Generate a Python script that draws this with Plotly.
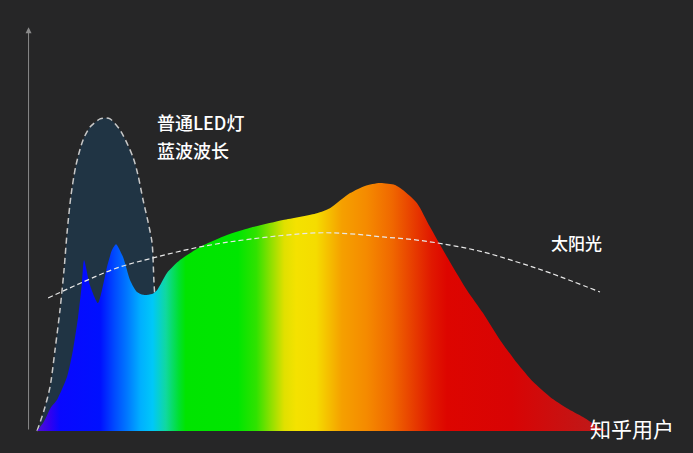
import plotly.graph_objects as go

# ---- data (wavelength in nm, relative intensity) ----
spec_nm = [380, 385, 390, 394.5, 401.7, 406.0, 409.7, 412.5, 414.0, 418.3, 424.1,
           430.6, 434.2, 437.1, 442.2, 447.3, 452.3, 456.7, 463.2, 466.8, 474.0,
           483.4, 497.9, 517.4, 534.1, 557.9, 582.5, 591.9, 606.4, 617.2, 628.1,
           638.9, 644.7, 654.9, 664.3, 678.7, 691.0, 702.6, 714.9, 727.2, 738.8,
           751.1, 763.3, 774.9, 787.2, 792]
spec_val = [0, 3, 7.5, 10, 17.3, 25.9, 36.4, 47.3, 54.6, 46.6, 40.9,
            52.4, 57.8, 59.7, 55.6, 48.2, 44.4, 43.5, 43.8, 45.0, 50.5,
            54.6, 58.8, 62.6, 64.9, 67.4, 69.6, 71.2, 76.0, 78.3, 79.2,
            78.6, 77.0, 72.8, 65.2, 54.0, 45.0, 37.7, 29.1, 21.7, 15.7,
            10.9, 7.3, 4.5, 1.0, 0]

led_nm = [380, 385.1, 389.4, 393.0, 396.6, 399.5, 401.7, 404.6, 408.2, 413.3,
          418.3, 425.6, 429.2, 432.8, 440.0, 449.4, 453.0, 456.7, 460.3, 463.2,
          464.6, 466.8, 469.0, 472.6]
led_val = [0, 6.7, 14.1, 25.9, 38.7, 51.4, 63.3, 75.4, 85.0, 93.0,
           97.1, 99.7, 100, 99.7, 96.2, 87.5, 81.8, 73.8, 66.8, 60.1,
           47.3, 32.3, 16.3, 0]

sun_nm = [388.0, 413.3, 437.9, 463.9, 497.9, 534.1, 582.5, 606.4, 630.3, 654.9,
          678.7, 702.6, 727.2, 751.1, 787.2]
sun_val = [42.5, 47.6, 52.1, 55.3, 58.8, 61.3, 63.3, 63.0, 62.0, 61.0,
           59.4, 57.2, 54.0, 50.5, 44.4]

label_led = ["普通LED灯", "蓝波波长"]
label_sun = "太阳光"
watermark = "知乎用户"

BG = "#262627"
FONT = "Noto Sans CJK SC"

rainbow = [
    [0.000, "#5010d0"], [0.023, "#3000f0"], [0.040, "#0808ff"], [0.111, "#0010ff"],
    [0.135, "#0048ff"], [0.158, "#0078ff"], [0.182, "#00b0ff"], [0.203, "#00c8f8"],
    [0.226, "#10d8a0"], [0.249, "#00e030"], [0.261, "#00e400"], [0.353, "#00e600"],
    [0.385, "#30e200"], [0.411, "#90e000"], [0.434, "#e0e000"], [0.455, "#f4e200"],
    [0.490, "#f5dc00"], [0.508, "#f5c400"], [0.535, "#f5a000"], [0.579, "#f58a00"],
    [0.623, "#f06800"], [0.658, "#e84000"], [0.693, "#e01800"], [0.720, "#dd0500"],
    [0.834, "#d80404"], [0.976, "#c01818"], [1.000, "#b81a1a"],
]

fig = go.Figure()

# LED blue bump (behind spectrum)
fig.add_trace(go.Scatter(
    x=led_nm, y=led_val, mode="lines",
    line=dict(color="#c8c8c8", width=1.5, dash="6px,4px", shape="spline", smoothing=0.8),
    fill="tozeroy", fillcolor="#203444", hoverinfo="skip"))

# rainbow spectrum
fig.add_trace(go.Scatter(
    x=spec_nm, y=spec_val, mode="lines", line=dict(width=0, shape="spline", smoothing=0.6),
    fill="tozeroy",
    fillgradient=dict(type="horizontal", start=380, stop=792, colorscale=rainbow),
    hoverinfo="skip"))

# sunlight dashed curve
fig.add_trace(go.Scatter(
    x=sun_nm, y=sun_val, mode="lines",
    line=dict(color="#e8e8e8", width=1.2, dash="5px,3px", shape="spline", smoothing=1.0),
    hoverinfo="skip"))

annotations = [
    # y-axis with arrow
    dict(x=373.85, y=129, ax=373.85, ay=0, xref="x", yref="y", axref="x", ayref="y",
         showarrow=True, arrowhead=2, arrowsize=1.2, arrowwidth=1, arrowcolor="#8a8a8a", text=""),
    dict(x=465.3, y=98.7, xref="x", yref="y", text=label_led[0], showarrow=False,
         xanchor="left", yanchor="middle",
         font=dict(family=FONT, size=18, color="#ffffff", weight=500)),
    dict(x=465.3, y=89.8, xref="x", yref="y", text=label_led[1], showarrow=False,
         xanchor="left", yanchor="middle",
         font=dict(family=FONT, size=18, color="#ffffff", weight=500)),
    dict(x=769.9, y=60.1, xref="x", yref="y", text=label_sun, showarrow=False,
         xanchor="center", yanchor="middle",
         font=dict(family=FONT, size=17, color="#ffffff", weight=500)),
    dict(x=0.912, y=0.055, xref="paper", yref="paper", text=watermark, showarrow=False,
         xanchor="center", yanchor="middle", font=dict(family=FONT, size=21, color="#ffffff")),
]

fig.update_layout(
    width=693, height=453,
    margin=dict(l=0, r=0, t=0, b=0),
    paper_bgcolor=BG, plot_bgcolor=BG,
    showlegend=False,
    xaxis=dict(range=[353.2, 854.5], visible=False, fixedrange=True),
    yaxis=dict(range=[-7.03, 137.7], visible=False, fixedrange=True),
    annotations=annotations,
)

fig.write_html(
    "out.html",
    config={"displayModeBar": False},
    post_script="document.body.style.margin='0';document.body.style.overflow='hidden';"
                "document.body.style.background='" + BG + "';",
)
